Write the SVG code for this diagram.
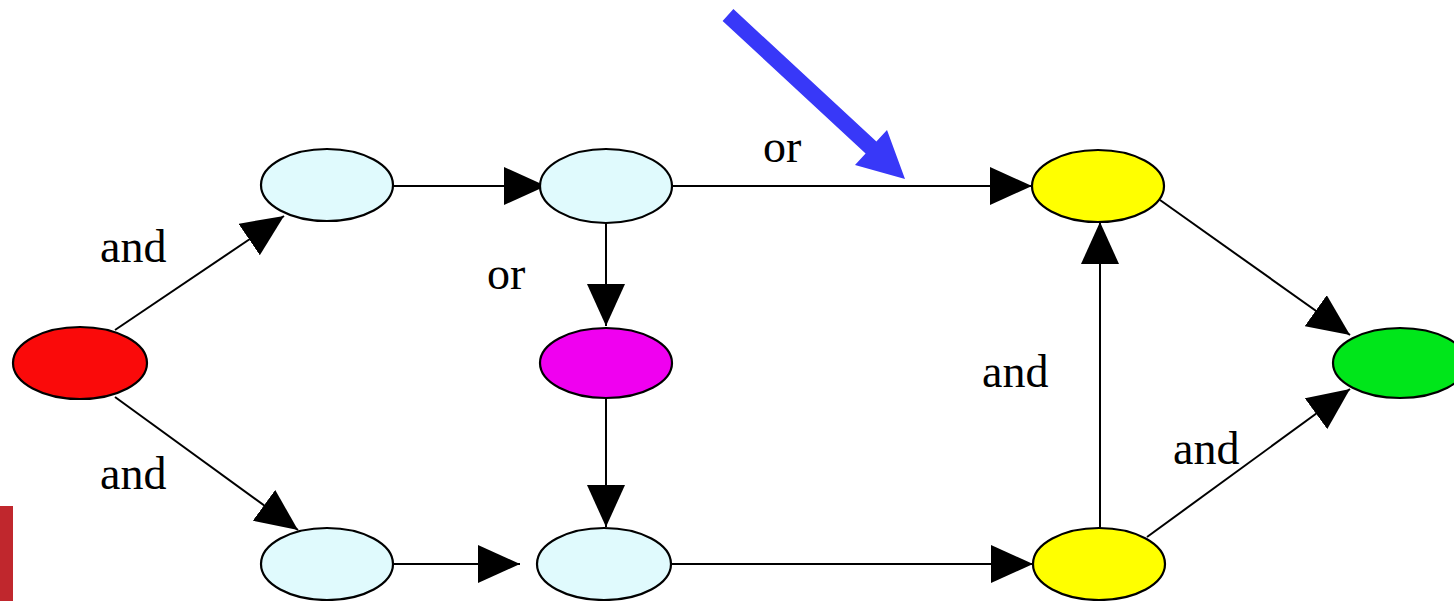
<svg xmlns="http://www.w3.org/2000/svg" width="1454" height="601" viewBox="0 0 1454 601">
<style>
.n{stroke:#000;stroke-width:2.2}
.e{stroke:#000;stroke-width:2;fill:none}
.t{font-family:"Liberation Serif","Times New Roman",serif;font-size:46px;fill:#000}
</style>
<defs>
<marker id="ah" markerUnits="userSpaceOnUse" markerWidth="42" markerHeight="38" refX="42" refY="19" orient="auto" viewBox="0 0 42 38">
<path d="M0,0 L42,19 L0,38 z" fill="#000"/>
</marker>
</defs>
<rect width="1454" height="601" fill="#fff"/>
<rect x="0" y="506" width="13" height="95" fill="#c0272d"/>
<g id="connectors">
<line class="e" x1="115" y1="330" x2="284" y2="216" marker-end="url(#ah)"/>
<line class="e" x1="115" y1="397" x2="298" y2="530" marker-end="url(#ah)"/>
<line class="e" x1="393" y1="186" x2="546" y2="186" marker-end="url(#ah)"/>
<line class="e" x1="672" y1="186" x2="1032" y2="186" marker-end="url(#ah)"/>
<line class="e" x1="606" y1="223" x2="606" y2="326" marker-end="url(#ah)"/>
<line class="e" x1="606" y1="399" x2="606" y2="527" marker-end="url(#ah)"/>
<line class="e" x1="393" y1="564" x2="520" y2="564" marker-end="url(#ah)"/>
<line class="e" x1="671" y1="564" x2="1033" y2="564" marker-end="url(#ah)"/>
<line class="e" x1="1100" y1="528" x2="1100" y2="222" marker-end="url(#ah)"/>
<line class="e" x1="1160" y1="200" x2="1350" y2="335" marker-end="url(#ah)"/>
<line class="e" x1="1147" y1="537" x2="1350" y2="389" marker-end="url(#ah)"/>
</g>
<g id="n-red"><ellipse class="n" cx="80" cy="363" rx="67" ry="36" fill="#fa0a0a"/></g>
<g id="n-tl"><ellipse class="n" cx="327" cy="185" rx="66" ry="36" fill="#e0fafd"/></g>
<g id="n-tm"><ellipse class="n" cx="606" cy="186" rx="66" ry="37" fill="#e0fafd"/></g>
<g id="n-mag"><ellipse class="n" cx="606" cy="363" rx="66" ry="35" fill="#f000f0"/></g>
<g id="n-bl"><ellipse class="n" cx="327" cy="564" rx="66" ry="36" fill="#e0fafd"/></g>
<g id="n-bm"><ellipse class="n" cx="604" cy="564" rx="67" ry="36" fill="#e0fafd"/></g>
<g id="n-yt"><ellipse class="n" cx="1098" cy="186" rx="66" ry="36" fill="#ffff00"/></g>
<g id="n-yb"><ellipse class="n" cx="1099" cy="564" rx="66" ry="36" fill="#ffff00"/></g>
<g id="n-green"><ellipse class="n" cx="1400" cy="363" rx="67" ry="35" fill="#00e61a"/></g>
<g id="labels">
<text class="t" x="100" y="262">and</text>
<text class="t" x="100" y="489">and</text>
<text class="t" x="763" y="162">or</text>
<text class="t" x="487" y="289">or</text>
<text class="t" x="982" y="387">and</text>
<text class="t" x="1173" y="464">and</text>
</g>
<polygon id="blue-arrow" points="733.4,9.1 876.4,141.6 887,130 905,179 855,165 865.6,153.4 722.6,20.9" fill="#3838f8"/>
</svg>
